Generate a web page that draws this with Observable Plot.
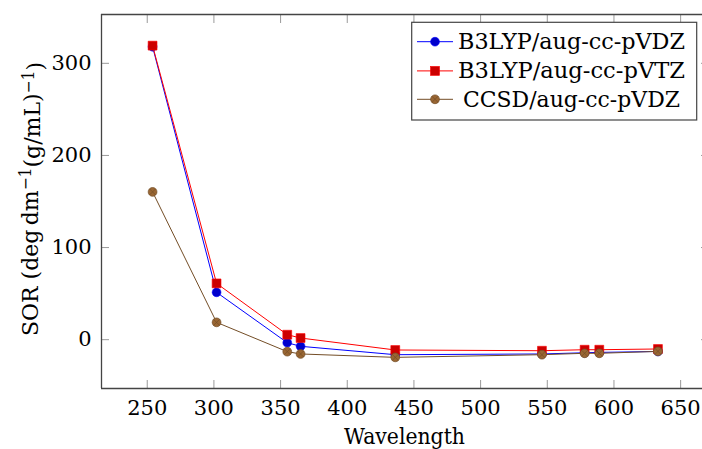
<!DOCTYPE html>
<html><head><meta charset="utf-8">
<script src="https://cdn.jsdelivr.net/npm/d3@7"></script>
<script src="https://cdn.jsdelivr.net/npm/@observablehq/plot@0.6"></script>
<style>
html,body{margin:0;padding:0;background:#fff;}
#chart svg{display:block;}
</style></head><body><div id="chart"></div>
<script>
// ---- data ----
const wavelengths = [254, 302, 355, 365, 436, 546, 578, 589, 633];
const b3lypDZ = [318.0, 51.4, -3.3, -7.2, -16.3, -15.5, -14.2, -13.8, -12.8];
const b3lypTZ = [319.2, 61.1, 5.4, 1.8, -11.2, -12.0, -10.9, -10.9, -10.1];
const ccsdDZ  = [160.4, 18.8, -13.0, -15.5, -19.2, -16.3, -14.8, -14.8, -12.7];
const seriesNames = ["B3LYP/aug-cc-pVDZ", "B3LYP/aug-cc-pVTZ", "CCSD/aug-cc-pVDZ"];
const xTicks = [250, 300, 350, 400, 450, 500, 550, 600, 650];
const yTicks = [0, 100, 200, 300];
const xLimits = [215.7, 670.9];
const yLimits = [-53, 353];
const xTitle = "Wavelength";

const seriesValues = [b3lypDZ, b3lypTZ, ccsdDZ];
const rows = seriesValues.map(vals => wavelengths.map((w, i) => ({wl: w, v: vals[i]})));

const W = 702, H = 449;
const font = "'DejaVu Serif', serif";

const blueLine = "#0000ff", blueFill = "#0000cc";
const redLine = "#ff0000", redFill = "#cc0000";
const brownLine = "#734d26", brownFill = "#996633";
const tickColor = "#9a9a9a", frameColor = "#444";

const chart = Plot.plot({
  width: W, height: H,
  marginLeft: 101, marginTop: 14, marginBottom: 61, marginRight: 0,
  style: {fontFamily: font, fontSize: "21px", color: "#000", background: "#fff", overflow: "hidden"},
  x: {domain: xLimits, range: [101, 708]},
  y: {domain: yLimits, range: [388, 14]},
  marks: [
    Plot.axisX(xTicks, {anchor: "bottom", tickSize: -8, tickPadding: 19.1, stroke: tickColor, fill: "#000", label: null}),
    Plot.axisX(xTicks, {anchor: "top", tickSize: -8, stroke: tickColor, fill: "none", label: null}),
    Plot.axisY(yTicks, {anchor: "left", tickSize: -8, tickPadding: 18, stroke: tickColor, fill: "#000", label: null}),
    Plot.axisY(yTicks, {anchor: "right", tickSize: -8, dx: 6, stroke: tickColor, fill: "none", label: null}),
    Plot.ruleX([xLimits[0]], {stroke: frameColor, strokeWidth: 1.3}),
    Plot.ruleY(yLimits, {stroke: frameColor, strokeWidth: 1.3}),
    // B3LYP/aug-cc-pVDZ
    Plot.line(rows[0], {x: "wl", y: "v", stroke: blueLine, strokeWidth: 1}),
    Plot.dot(rows[0], {x: "wl", y: "v", r: 4.4, fill: blueFill, stroke: blueLine, strokeWidth: 0.6}),
    // B3LYP/aug-cc-pVTZ
    Plot.line(rows[1], {x: "wl", y: "v", stroke: redLine, strokeWidth: 1}),
    Plot.dot(rows[1], {x: "wl", y: "v", symbol: "square", r: 5, fill: redFill, stroke: redLine, strokeWidth: 0.6}),
    // CCSD/aug-cc-pVDZ
    Plot.line(rows[2], {x: "wl", y: "v", stroke: brownLine, strokeWidth: 1}),
    Plot.dot(rows[2], {x: "wl", y: "v", r: 4.4, fill: brownFill, stroke: brownLine, strokeWidth: 0.7}),
    Plot.dot(rows[2], {x: "wl", y: "v", symbol: "times", r: 2.9, stroke: brownLine, strokeWidth: 0.7})
  ]
});
document.getElementById("chart").appendChild(chart);

const svg = d3.select(chart);
const labelStyle = `font-family: ${font}; font-size: 22.7px`;

// x-axis title
svg.append("text")
  .attr("x", 404.5).attr("y", 444)
  .attr("text-anchor", "middle")
  .attr("style", labelStyle)
  .attr("textLength", 121).attr("lengthAdjust", "spacingAndGlyphs")
  .attr("fill", "#000")
  .text(xTitle);

// y-axis title with superscripts
const yt = svg.append("text")
  .attr("transform", "translate(37.5,199) rotate(-90)")
  .attr("text-anchor", "middle")
  .attr("style", labelStyle)
  .attr("textLength", 274).attr("lengthAdjust", "spacingAndGlyphs")
  .attr("fill", "#000");
yt.append("tspan").text("SOR (deg\u2009dm");
yt.append("tspan").attr("dy", "-0.42em").style("font-size", "16px").text("\u22121");
yt.append("tspan").attr("dy", "0.42em").text("(g/mL)");
yt.append("tspan").attr("dy", "-0.42em").style("font-size", "16px").text("\u22121");
yt.append("tspan").attr("dy", "0.42em").text(")");

// legend (inside plot, top right)
const lg = svg.append("g");
lg.append("rect")
  .attr("x", 411.7).attr("y", 22.3).attr("width", 285).attr("height", 97.7)
  .attr("fill", "#fff").attr("stroke", frameColor).attr("stroke-width", 1.2);
const rowY = [41.7, 70.9, 99.3];
const rowBase = [49, 78.3, 106.7];
const rowLen = [227, 227, 217];
const lineCols = [blueLine, redLine, brownLine];
seriesNames.forEach((name, i) => {
  const cy = rowY[i];
  lg.append("line").attr("x1", 417).attr("x2", 453).attr("y1", cy).attr("y2", cy)
    .attr("stroke", lineCols[i]).attr("stroke-width", 1);
  if (i === 0) {
    lg.append("circle").attr("cx", 435).attr("cy", cy).attr("r", 4.4)
      .attr("fill", blueFill).attr("stroke", blueLine).attr("stroke-width", 0.6);
  } else if (i === 1) {
    lg.append("rect").attr("x", 435 - 4.5).attr("y", cy - 4.5).attr("width", 9).attr("height", 9)
      .attr("fill", redFill).attr("stroke", redLine).attr("stroke-width", 0.6);
  } else {
    lg.append("circle").attr("cx", 435).attr("cy", cy).attr("r", 4.4)
      .attr("fill", brownFill).attr("stroke", brownLine).attr("stroke-width", 0.7);
    const a = 3.1;
    lg.append("path").attr("d", `M${435-a},${cy-a}L${435+a},${cy+a}M${435-a},${cy+a}L${435+a},${cy-a}`)
      .attr("stroke", brownLine).attr("stroke-width", 0.7);
  }
  lg.append("text").attr("x", 571.5).attr("y", rowBase[i])
    .attr("text-anchor", "middle")
    .attr("style", labelStyle)
    .attr("textLength", rowLen[i]).attr("lengthAdjust", "spacingAndGlyphs")
    .attr("fill", "#000")
    .text(name);
});
</script>
</body></html>
